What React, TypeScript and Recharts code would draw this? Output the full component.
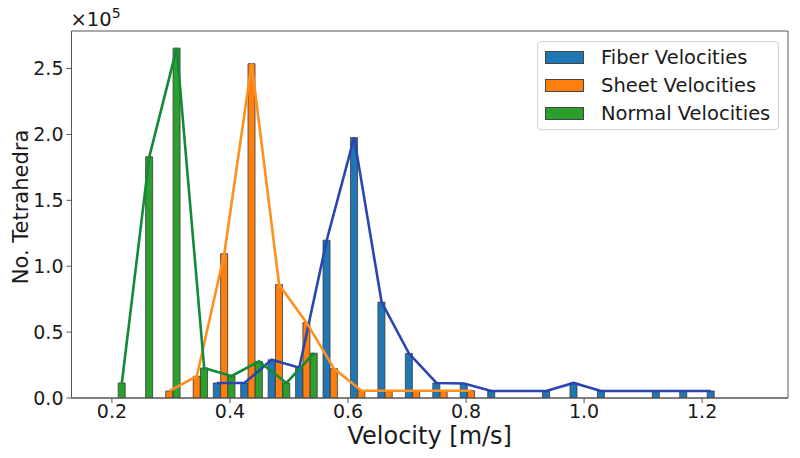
import { Bar, ComposedChart, Legend, Line, ReferenceArea, XAxis, YAxis } from 'recharts';

const FONT = '"DejaVu Sans", Verdana, sans-serif';

// histogram bin centres (m/s)
const binCenters = [
  0.2044, 0.2509, 0.2974, 0.3439, 0.3904, 0.4368, 0.4833, 0.5298, 0.5763, 0.6228, 0.6693, 0.7158,
  0.7623, 0.8088, 0.8553, 0.9018, 0.9482, 0.9947, 1.0412, 1.0877, 1.1342, 1.1807, 1.2272, 1.2737,
];
const binWidth = 0.0465;

// counts per bin, null where the bin is empty
const fiberCounts = [
  null, null, null, null, 11400, 11400, 29000, 23000, 119700, 197600, 72800, 33700,
  11400, 11000, 5300, null, 5300, 11400, 5300, null, 5300, 5300, 5300, null,
];
const sheetCounts = [
  null, null, 5300, 16500, 109500, 253700, 86000, 57200, 22300, 5500, 5500, 5500,
  5500, 5500, null, null, null, null, null, null, null, null, null, null,
];
const normalCounts = [
  11400, 183000, 265500, 22800, 16700, 27800, 11400, 34000, null, null, null, null,
  null, null, null, null, null, null, null, null, null, null, null, null,
];

const xTicks = [0.2, 0.4, 0.6, 0.8, 1.0, 1.2];
const yTicks = [0, 50000, 100000, 150000, 200000, 250000];
const xDomain = [0.1315, 1.3455];
const yDomain = [0, 278500];

const series = [
  { key: 'fiber', name: 'Fiber Velocities', bar: '#1f77b4', line: '#2a44b0' },
  { key: 'sheet', name: 'Sheet Velocities', bar: '#ff7f0e', line: '#ff8f1f' },
  { key: 'normal', name: 'Normal Velocities', bar: '#2ca02c', line: '#138a38' },
];

// side-by-side bars inside each bin, like matplotlib's multi-dataset hist
const barOffset = (binWidth * 0.8) / 3;
const rows = binCenters.flatMap((c, i) => [
  { x: c - barOffset, fiber: fiberCounts[i] },
  { x: c, sheet: sheetCounts[i] },
  { x: c + barOffset, normal: normalCounts[i] },
]);

const LegendBox = () => (
  <div
    style={{
      width: 242,
      height: 89,
      boxSizing: 'border-box',
      border: '1px solid #d4d4d4',
      borderRadius: 4,
      background: 'rgba(255,255,255,0.85)',
      padding: '1px 0 0 7px',
      fontFamily: FONT,
      fontSize: 19.5,
      color: '#1a1a1a',
    }}
  >
    {series.map((s) => (
      <div key={s.key} style={{ display: 'flex', alignItems: 'center', height: 28.3 }}>
        <span
          style={{
            display: 'inline-block',
            width: 39,
            height: 13,
            boxSizing: 'border-box',
            background: s.bar,
            border: '1px solid #444',
            marginRight: 17,
          }}
        />
        <span>{s.name}</span>
      </div>
    ))}
  </div>
);

const YLabels = ({ viewBox }: any) => {
  const { x, y, width } = viewBox;
  const cy = 207;
  return (
    <g fontFamily={FONT} fill="#1a1a1a">
      <text
        x={21}
        y={cy}
        transform={`rotate(-90, 21, ${cy})`}
        textAnchor="middle"
        dominantBaseline="central"
        fontSize={21}
      >
        No. Tetrahedra
      </text>
      <text x={x + width - 1} y={y - 5} fontSize={19.5}>
        ×10
        <tspan dy={-8} fontSize={14}>
          5
        </tspan>
      </text>
    </g>
  );
};

const XLabel = ({ viewBox }: any) => {
  const { x, y, width } = viewBox;
  return (
    <text x={x + width / 2} y={y + 46} textAnchor="middle" fontFamily={FONT} fontSize={24} fill="#1a1a1a">
      Velocity [m/s]
    </text>
  );
};

export default function App() {
  return (
    <div style={{ position: 'absolute', left: 0, top: 0, width: 800, height: 458, background: '#fff' }}>
      <ComposedChart width={800} height={458} data={rows} margin={{ top: 31, right: 12, bottom: 0, left: 0 }}>
        <XAxis
          dataKey="x"
          type="number"
          domain={xDomain}
          allowDataOverflow
          ticks={xTicks}
          tickFormatter={(v: number) => v.toFixed(1)}
          height={60}
          stroke="#555"
          tickSize={5}
          tickMargin={2}
          tick={{ fontSize: 19, fill: '#1a1a1a', fontFamily: FONT }}
          label={XLabel}
        />
        <YAxis
          type="number"
          domain={yDomain}
          allowDataOverflow
          ticks={yTicks}
          tickFormatter={(v: number) => (v / 100000).toFixed(1)}
          width={71.5}
          stroke="#555"
          tickSize={5}
          tickMargin={3}
          tick={{ fontSize: 19, fill: '#1a1a1a', fontFamily: FONT }}
          label={YLabels}
        />
        <ReferenceArea
          x1={xDomain[0]}
          x2={xDomain[1]}
          y1={yDomain[0]}
          y2={yDomain[1]}
          fill="none"
          stroke="#555"
          strokeWidth={1}
          ifOverflow="visible"
        />
        {series.map((s) => (
          <Bar
            key={`bar-${s.key}`}
            dataKey={s.key}
            name={s.name}
            stackId="hist"
            barSize={7}
            fill={s.bar}
            stroke="#3a3a3a"
            strokeWidth={0.8}
            isAnimationActive={false}
          />
        ))}
        {series.map((s) => (
          <Line
            key={`line-${s.key}`}
            dataKey={s.key}
            type="linear"
            stroke={s.line}
            strokeWidth={2.6}
            dot={false}
            activeDot={false}
            connectNulls
            legendType="none"
            isAnimationActive={false}
          />
        ))}
        <Legend
          layout="vertical"
          align="center"
          verticalAlign="middle"
          content={() => <LegendBox />}
          wrapperStyle={{ left: 537, top: 41, width: 242 }}
        />
      </ComposedChart>
    </div>
  );
}
